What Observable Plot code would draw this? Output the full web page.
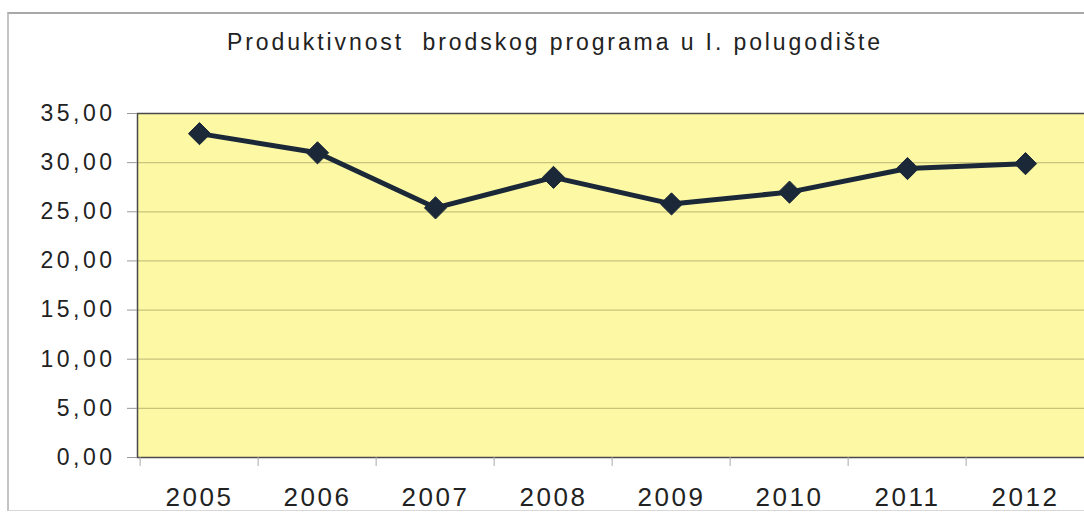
<!DOCTYPE html>
<html>
<head>
<meta charset="utf-8">
<script src="https://cdn.jsdelivr.net/npm/d3@7"></script>
<script src="https://cdn.jsdelivr.net/npm/@observablehq/plot@0.6"></script>
<style>
  html, body { margin: 0; padding: 0; background: #ffffff; }
  #frame {
    position: absolute; left: 7px; top: 12px; width: 1077px; height: 499px;
    border-top: 2px solid #a8a8a8; border-left: 2px solid #c4c4c4; border-bottom: 1px solid #d8d8d8;
    box-sizing: border-box;
  }
  #wrap { position: relative; width: 1084px; height: 514px; }
  #title {
    position: absolute; left: 0; top: 29px; width: 1084px; padding-left: 26px; box-sizing: border-box;
    text-align: center; font-family: "Liberation Sans", Arial, sans-serif; font-size: 23px;
    letter-spacing: 2.9px; color: #222; white-space: pre;
  }
  #chart { position: absolute; left: 0; top: 90px; }
</style>
</head>
<body>
<div id="wrap">
  <div id="frame"></div>
  <div id="title">Produktivnost  brodskog programa u I. polugodište</div>
  <div id="chart"></div>
</div>
<script>
const years = ["2005", "2006", "2007", "2008", "2009", "2010", "2011", "2012"];
const values = [32.95, 31.0, 25.4, 28.5, 25.8, 27.0, 29.4, 29.9];
const yTicks = [0, 5, 10, 15, 20, 25, 30, 35];
const gridTicks = [5, 10, 15, 20, 25, 30];

const data = years.map((y, i) => ({year: y, value: values[i]}));
const fmt = d => d.toFixed(2).replace(".", ",");

const W = 1084, H = 424;
const mLeft = 137, mRight = -3;
const bw = (W - mLeft - mRight) / years.length;

const chart = Plot.plot({
  width: W,
  height: H,
  marginTop: 23,
  marginBottom: 57,
  marginLeft: mLeft,
  marginRight: mRight,
  style: {fontFamily: "'Liberation Sans', Arial, sans-serif", color: "#222", overflow: "visible", background: "transparent"},
  x: {type: "band", domain: years, padding: 0},
  y: {domain: [0, 35]},
  marks: [
    Plot.frame({fill: "#fcf8a4", stroke: null}),
    Plot.gridY(gridTicks, {stroke: "#c8c47c", strokeOpacity: 1, strokeWidth: 1.2}),
    Plot.frame({stroke: "#4a4a4a", strokeWidth: 1.5, fill: null}),
    Plot.axisY({ticks: yTicks, tickSize: 10, tickPadding: 12, tickFormat: fmt, fontSize: 23, stroke: "#999", label: null}),
    Plot.axisX({tickSize: 9, tickFormat: null, dx: -bw / 2, stroke: "#aaa", label: null}),
    Plot.axisX({tickSize: 0, tickPadding: 30, fontSize: 26, label: null}),
    Plot.line(data, {x: "year", y: "value", stroke: "#1b2838", strokeWidth: 5, strokeLinejoin: "round"}),
    Plot.dot(data, {x: "year", y: "value", symbol: "diamond2", r: 10, fill: "#1b2838", stroke: "#1b2838", strokeWidth: 1})
  ]
});
d3.select(chart).selectAll('g[aria-label="y-axis tick label"]').style("letter-spacing", "3.5px");
d3.select(chart).selectAll('g[aria-label="x-axis tick label"]').style("letter-spacing", "2.5px");
document.getElementById("chart").appendChild(chart);
</script>
</body>
</html>
